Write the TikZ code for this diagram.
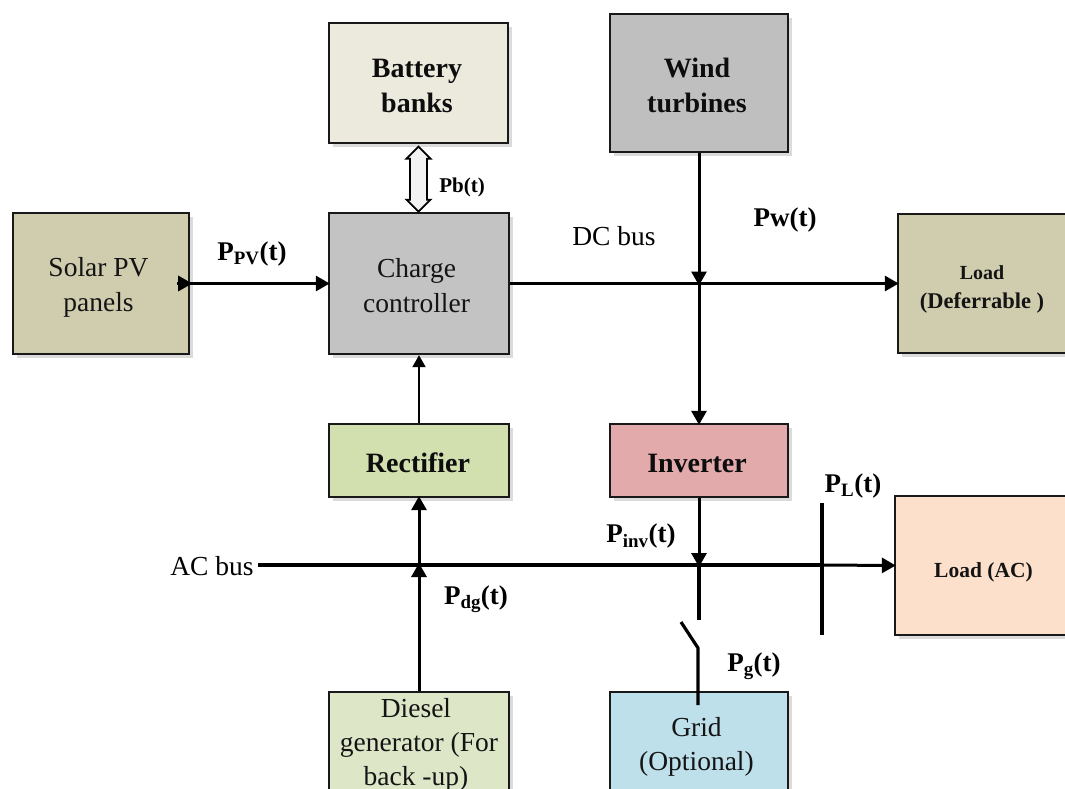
\documentclass[tikz,border=0pt]{standalone}
\usepackage{fontspec}
\setmainfont{Liberation Serif}
\usetikzlibrary{arrows.meta,calc,shadows}
\newcommand{\fs}[1]{\fontsize{#1}{#1}\selectfont}
% \dn pushes a block's text down, \lf pushes a line of it to the left
\newcommand{\dn}[1]{\rule{0pt}{#1pt}}
\newcommand{\lf}[1]{\hspace*{#1pt}}
\definecolor{cbat}{HTML}{ECE9DD}
\definecolor{cwind}{HTML}{BFBFBF}
\definecolor{csolar}{HTML}{D0CDAF}
\definecolor{ccharge}{HTML}{C3C3C3}
\definecolor{crect}{HTML}{D2E0B0}
\definecolor{cdiesel}{HTML}{DDE7C8}
\definecolor{cinv}{HTML}{E2AAAA}
\definecolor{cloadac}{HTML}{FCE0CC}
\definecolor{cgrid}{HTML}{BEE0EA}
\tikzset{
  x=1pt,y=-1pt,
  blockbox/.style={draw=black!90,line width=2.4pt,inner sep=0pt,align=center,
    copy shadow={shadow xshift=4pt,shadow yshift=-4pt,fill=black!14,draw=none},
    font=\fs{27.5},text=black!92},
  boldtxt/.style={font=\fs{28}\bfseries,text=black!95},
  conn/.style={line width=3pt,shorten >=-2pt,-{Triangle[length=14pt,width=15pt]}},
  plainline/.style={line width=3.2pt},
  lab/.style={font=\fs{27}\bfseries,inner sep=0pt},
  txt/.style={font=\fs{27.5},inner sep=0pt},
}
\begin{document}
\begin{tikzpicture}
\useasboundingbox (0,0) rectangle (1065,789);
\clip (0,0) rectangle (1065,789);
% blocks
\node[blockbox,boldtxt,fill=cbat,minimum width=179pt,minimum height=120pt] (bat) at (418.5,83) {\dn{25}Battery\lf{3}\\[7pt]banks\lf{3}};
\node[blockbox,boldtxt,fill=cwind,minimum width=178pt,minimum height=138pt] (wind) at (699,83) {\dn{25}Wind\lf{4}\\[7pt]turbines\lf{4}};
\node[blockbox,fill=csolar,minimum width=176pt,minimum height=141pt] (sol) at (101,283.5) {\dn{27}Solar PV\lf{5}\\[7pt]panels\lf{5}};
\node[blockbox,fill=ccharge,minimum width=180pt,minimum height=141pt] (chg) at (419,283.5) {\dn{23}Charge\lf{5}\\[7pt]controller\lf{5}};
\node[blockbox,font=\fs{22.5}\bfseries,fill=csolar,minimum width=172pt,minimum height=139pt] (ldef) at (984,283.5) {\dn{26}{\fs{20}Load}\lf{4}\\[6pt](Deferrable )\lf{4}};
\node[blockbox,boldtxt,fill=crect,minimum width=180pt,minimum height=73pt] (rect) at (419,460.5) {\dn{25}Rectifier\lf{2}};
\node[blockbox,boldtxt,fill=cinv,minimum width=178pt,minimum height=73pt] (inv) at (699,460.5) {\dn{25}Inverter\lf{4}};
\node[blockbox,font=\fs{21.5}\bfseries,fill=cloadac,minimum width=177pt,minimum height=139pt] (lac) at (983.5,565.5) {\dn{28}Load (AC)};
\node[blockbox,fill=cdiesel,minimum width=180pt,minimum height=106pt] (die) at (419,745) {Diesel\lf{6}\\[6.5pt]generator (For\lf{12}\\[6.5pt]back -up)\lf{6}};
\node[blockbox,fill=cgrid,minimum width=178pt,minimum height=104pt] (grid) at (699,744) {\dn{25}Grid\lf{5}\\[6pt](Optional)\lf{5}};
% junctions and free ends
\coordinate (dcj) at (wind.south |- chg.east);
\coordinate (acin) at (258,565);
\coordinate (acdg) at (rect.south |- acin);
\coordinate (acinv) at (inv.south |- acin);
\coordinate (acl) at (822,565);
\coordinate (sw1) at (699,620);
\coordinate (sw2) at (681,622);
\coordinate (sw3) at (698,648);
\coordinate (grtop) at (698,705);
\coordinate (bart) at (822,503);
\coordinate (barb) at (822,635);
\coordinate (soltip) at ($(sol.east)+(-13,0)$);
\coordinate (pbt) at ($(bat.south)+(0,2.5)$);
% double arrow between battery and charge controller
\draw[draw=black,line width=1.8pt,fill=black!5]
  (pbt) -- ++(12,12) -- ++(-3.5,0) -- ++(0,41) -- ++(3.5,0) -- ++(-12,12)
  -- ++(-12,-12) -- ++(3.5,0) -- ++(0,-41) -- ++(-3.5,0) -- cycle;
% connectors
\draw[conn] (soltip) -- (sol.east);
\draw[conn] (sol.east) -- (chg.west);
\draw[conn] (chg.east) -- (ldef.west |- chg.east);
\draw[conn] (wind.south) -- (dcj);
\draw[conn] (dcj) -- (inv.north);
\draw[line width=2pt,-{Triangle[length=12pt,width=13pt]}] (rect.north) -- (chg.south);
\draw[conn] (acdg) -- (rect.south);
\draw[conn] (die.north) -- (acdg);
\draw[conn] (inv.south) -- (acinv);
\draw[plainline] (acin) -- (acl);
\draw[conn] (acl) -- (lac.west);
\draw[plainline] (acinv) -- (sw1);
\draw[plainline,line join=round] (sw2) -- (sw3) -- (grtop);
\draw[line width=3.2pt] (bart) -- (barb);
% labels
\node[lab] (lpv) at (252,254) {P\textsubscript{PV}(t)};
\node[lab,font=\fs{21}\bfseries] (lpb) at (462,187) {Pb(t)};
\node[txt] (ldc) at (614,236) {DC bus};
\node[lab] (lpw) at (785,220) {Pw(t)};
\node[txt] (lac2) at (212,566) {AC bus};
\node[lab] (lpl) at (853,486) {P\textsubscript{L}(t)};
\node[lab] (lpi) at (641,536) {P\textsubscript{inv}(t)};
\node[lab] (lpd) at (476,599) {P\textsubscript{dg}(t)};
\node[lab] (lpg) at (754,666) {P\textsubscript{g}(t)};
\end{tikzpicture}
\end{document}
